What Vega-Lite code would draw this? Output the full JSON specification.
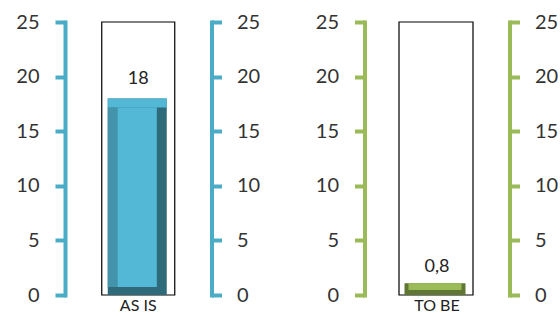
{
  "$schema": "https://vega.github.io/schema/vega-lite/v6.json",
  "autosize": {"type": "pad"},
  "padding": {"left": 15, "top": 12, "right": 0, "bottom": 0},
  "background": "white",
  "bounds": "flush",
  "spacing": 152.5,
  "config": {
    "view": {"stroke": null},
    "locale": {"number": {"decimal": ",", "thousands": ".", "grouping": [3], "currency": ["", " €"]}},
    "axis": {"labelFont": "Lato", "labelColor": "#333333", "title": null, "grid": false},
    "text": {"font": "Lato"}
  },
  "hconcat": [
    {
      "width": 146.5,
      "height": 273,
      "data": {"values": [{"label": "AS IS", "value": 18, "max": 25}]},
      "encoding": {
        "x": {"field": "label", "type": "nominal", "scale": {"paddingInner": 0, "paddingOuter": 0},
          "axis": {"domain": false, "ticks": false, "labelAngle": 0, "labelFontSize": 16, "labelPadding": 2, "labelColor": "#222222", "labelBaseline": "top"}}
      },
      "layer": [
        {
          "mark": {"type": "bar", "fill": "white", "stroke": "#000000", "strokeWidth": 1.2, "width": 73},
          "encoding": {"y": {"field": "max", "type": "quantitative", "scale": {"domain": [0, 25], "nice": false},
            "axis": {"orient": "left", "values": [0, 5, 10, 15, 20, 25], "domainColor": "#4bacc6", "domainWidth": 4, "domainCap": "square", "tickColor": "#4bacc6", "tickWidth": 4, "tickSize": 10, "labelFontSize": 20, "labelPadding": 16}}}
        },
        {
          "mark": {"type": "bar", "color": "#2e6a7a", "width": 59, "xOffset": -1},
          "encoding": {"y": {"field": "value", "type": "quantitative",
            "axis": {"orient": "right", "values": [0, 5, 10, 15, 20, 25], "domainColor": "#4bacc6", "domainWidth": 4, "domainCap": "square", "tickColor": "#4bacc6", "tickWidth": 4, "tickSize": 10, "labelFontSize": 20, "labelPadding": 15}},
            "y2": {"datum": 0}}
        },
        {
          "mark": {"type": "bar", "color": "#4394aa", "width": 49, "xOffset": -6, "yOffset": 9, "y2Offset": -8},
          "encoding": {"y": {"field": "value", "type": "quantitative", "axis": null}, "y2": {"datum": 0}}
        },
        {
          "mark": {"type": "bar", "color": "#53b7d6", "width": 39, "xOffset": -1, "yOffset": 9, "y2Offset": -8},
          "encoding": {"y": {"field": "value", "type": "quantitative", "axis": null}, "y2": {"datum": 0}}
        },
        {
          "mark": {"type": "bar", "color": "#53b7d6", "width": 59, "xOffset": -1, "y2Offset": 9},
          "encoding": {"y": {"field": "value", "type": "quantitative", "axis": null}, "y2": {"field": "value"}}
        },
        {
          "mark": {"type": "text", "fontSize": 18, "dy": -14, "baseline": "alphabetic", "color": "#222222"},
          "encoding": {"y": {"field": "value", "type": "quantitative", "axis": null}, "text": {"field": "value", "type": "quantitative", "format": ".1~f"}}
        }
      ],
      "resolve": {"axis": {"y": "independent"}}
    },
    {
      "width": 145,
      "height": 273,
      "data": {"values": [{"label": "TO BE", "value": 0.8, "max": 25}]},
      "encoding": {
        "x": {"field": "label", "type": "nominal", "scale": {"paddingInner": 0, "paddingOuter": 0},
          "axis": {"domain": false, "ticks": false, "labelAngle": 0, "labelFontSize": 16, "labelPadding": 2, "labelColor": "#222222", "labelBaseline": "top"}}
      },
      "layer": [
        {
          "mark": {"type": "bar", "fill": "white", "stroke": "#000000", "strokeWidth": 1.2, "width": 74, "xOffset": -1},
          "encoding": {"y": {"field": "max", "type": "quantitative", "scale": {"domain": [0, 25], "nice": false},
            "axis": {"orient": "left", "values": [0, 5, 10, 15, 20, 25], "domainColor": "#9bbb59", "domainWidth": 4, "domainCap": "square", "tickColor": "#9bbb59", "tickWidth": 4, "tickSize": 10, "labelFontSize": 20, "labelPadding": 16}}}
        },
        {
          "mark": {"type": "bar", "color": "#5f7733", "width": 61, "xOffset": -2, "yOffset": -3},
          "encoding": {"y": {"field": "value", "type": "quantitative",
            "axis": {"orient": "right", "values": [0, 5, 10, 15, 20, 25], "domainColor": "#9bbb59", "domainWidth": 4, "domainCap": "square", "tickColor": "#9bbb59", "tickWidth": 4, "tickSize": 10, "labelFontSize": 20, "labelPadding": 15}},
            "y2": {"datum": 0}}
        },
        {
          "mark": {"type": "bar", "color": "#9bbb59", "width": 53, "xOffset": -2, "yOffset": -3, "y2Offset": -5},
          "encoding": {"y": {"field": "value", "type": "quantitative", "axis": null}, "y2": {"datum": 0}}
        },
        {
          "mark": {"type": "text", "fontSize": 18, "dy": -14, "baseline": "alphabetic", "color": "#222222"},
          "encoding": {"y": {"field": "value", "type": "quantitative", "axis": null}, "text": {"field": "value", "type": "quantitative", "format": ".1~f"}}
        }
      ],
      "resolve": {"axis": {"y": "independent"}}
    }
  ]
}
